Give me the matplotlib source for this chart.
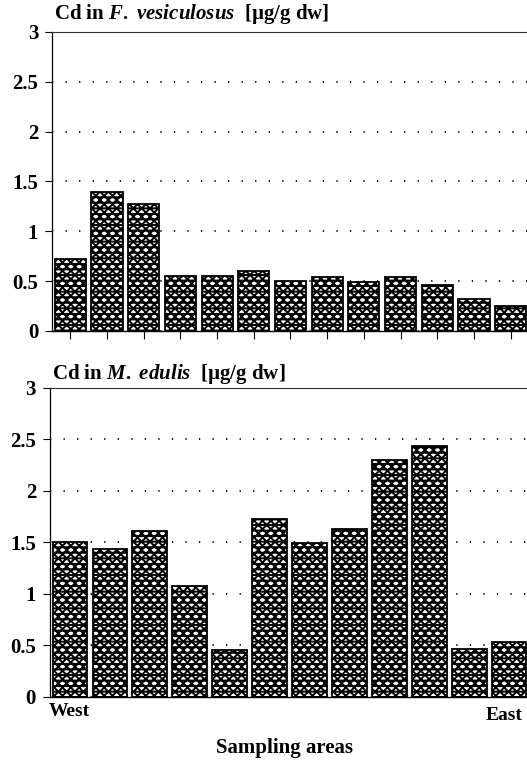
import matplotlib
matplotlib.use("Agg")
import matplotlib.pyplot as plt
import numpy as np

plt.rcParams["font.family"] = "Liberation Serif"
plt.rcParams["font.weight"] = "bold"
plt.rcParams["mathtext.fontset"] = "custom"
plt.rcParams["mathtext.rm"] = "Liberation Serif:bold"
plt.rcParams["mathtext.it"] = "Liberation Serif:italic:bold"
plt.rcParams["hatch.linewidth"] = 1.4

# Cd concentrations, sampling areas from West to East
fucus_cd = [0.72, 1.39, 1.27, 0.55, 0.55, 0.60, 0.50, 0.54, 0.49, 0.54, 0.46, 0.32, 0.25]
mytilus_cd = [1.50, 1.44, 1.61, 1.08, 0.46, 1.73, 1.49, 1.63, 2.30, 2.44, 0.47, 0.53]
yticks = [0, 0.5, 1, 1.5, 2, 2.5, 3]
ytick_labels = ["0", "0.5", "1", "1.5", "2", "2.5", "3"]

fig = plt.figure(figsize=(5.27, 7.67), dpi=100)
ax_top = fig.add_axes([0.0987, 0.5685, 0.905, 0.3898])
ax_bot = fig.add_axes([0.0949, 0.0913, 0.909, 0.4029])


def style_axes(ax, values, width):
    x = np.arange(len(values))
    ax.bar(x, values, width=width, color="white", edgecolor="black",
           linewidth=1.3, hatch="xxxx---", zorder=3)
    ax.set_xlim(-0.5, len(values) - 0.5)
    ax.set_ylim(0, 3)
    ax.set_yticks(yticks)
    ax.set_yticklabels(ytick_labels, fontsize=15, fontweight="bold")
    ax.yaxis.grid(True, linestyle=(0, (0.7, 6.8)), color="black", linewidth=1.3)
    ax.set_axisbelow(True)
    ax.tick_params(axis="y", direction="out", length=5, width=0.8, pad=5)
    ax.spines["right"].set_visible(False)
    ax.spines["top"].set_color("#333333")
    ax.spines["top"].set_linewidth(0.8)
    ax.spines["left"].set_linewidth(0.9)
    ax.spines["bottom"].set_linewidth(1.0)
    return x


x_top = style_axes(ax_top, fucus_cd, 0.85)
ax_top.set_xticks(x_top)
ax_top.set_xticklabels([])
ax_top.tick_params(axis="x", direction="out", length=6, width=0.8)

style_axes(ax_bot, mytilus_cd, 0.87)
ax_bot.set_xticks([])

ax_top.text(0.004, 1.02, r"Cd in $\mathit{F.\ vesiculosus}$  [µg/g dw]",
            transform=ax_top.transAxes, fontsize=15, fontweight="bold",
            ha="left", va="bottom")
ax_bot.text(0.004, 1.005, r"Cd in $\mathit{M.\ edulis}$  [µg/g dw]",
            transform=ax_bot.transAxes, fontsize=15, fontweight="bold",
            ha="left", va="bottom")

fig.text(49 / 527, 1 - 711 / 767, "West", fontsize=14, fontweight="bold",
         ha="left", va="center")
fig.text(523 / 527, 1 - 716 / 767, "East", fontsize=14, fontweight="bold",
         ha="right", va="center")
fig.text(285 / 527, 1 - 748 / 767, "Sampling areas", fontsize=15,
         fontweight="bold", ha="center", va="center")

fig.savefig("out.png", dpi=100)
